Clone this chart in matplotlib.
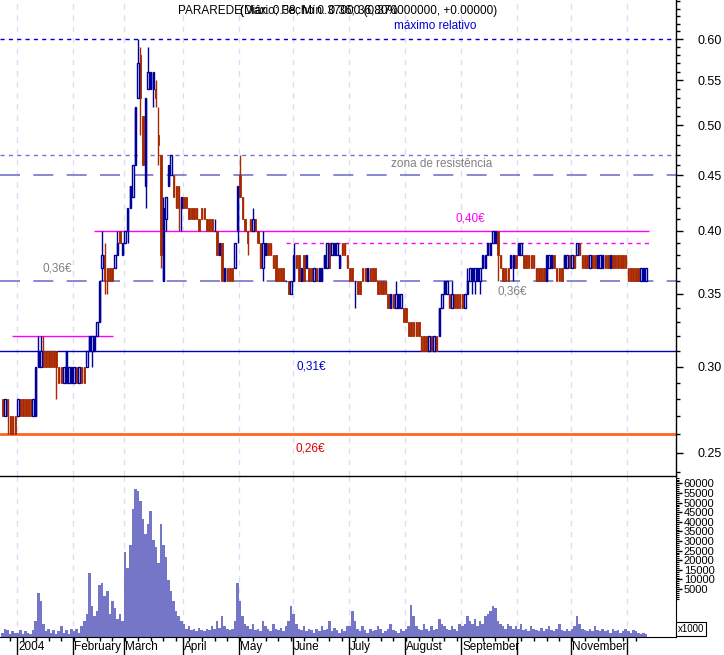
import numpy as np
import pandas as pd
import matplotlib
matplotlib.use("Agg")
import matplotlib.pyplot as plt
from matplotlib import ticker, transforms

plt.rcParams['font.family'] = ['Liberation Sans', 'DejaVu Sans']

# daily candles in euro cents, first session 24 Dec 2003 (one entry per weekday)
opens = [28, 27, 28, 27, 27, 27,
         27, 28, 28, 28, 28, 28, 27, 27, 30, 30, 31, 31, 31, 31, 31, 31, 30, 30, 29, 29, 29, 29,
         29, 30, 29, 30, 30, 30, 31, 31, 31, 32, 33, 37, 38, 37, 37, 37, 37, 38, 40, 38,
         39, 40, 42, 43, 46, 53, 58, 51, 44, 54, 54, 54, 54, 49, 47, 36, 41, 44, 45, 45, 44, 44, 42,
         43, 43, 42, 42, 42, 42, 41, 42, 42, 41, 41, 41, 40, 40, 38, 39, 36, 37, 37, 37, 37, 40,
         45, 43, 41, 40, 41, 40, 41, 40, 39, 37, 38, 39, 39, 38, 38, 37, 37, 37, 36, 36, 35,
         36, 38, 38, 36, 38, 37, 37, 37, 36, 37, 36, 36, 37, 37, 39, 38, 38, 38, 37, 39, 39, 38,
         37, 37, 36, 36, 36, 37, 37, 36, 37, 37, 37, 36, 36, 36, 36, 35, 34, 35, 34, 34, 34, 34,
         34, 33, 33, 33, 33, 33, 32, 32, 32, 31, 32, 31, 32, 32, 34, 35, 35, 35, 34, 35, 35, 35,
         35, 34, 35, 36, 36, 36, 36, 36, 37, 37, 38, 38, 39, 39, 40, 38, 37, 37, 37, 37, 37, 38,
         38, 38, 38, 38, 38, 38, 38, 37, 37, 37, 37, 36, 37, 37, 38, 37, 37, 37, 37, 37, 38,
         37, 38, 38, 39, 38, 38, 38, 37, 38, 38, 37, 37, 37, 38, 38, 37, 38, 38, 38, 38, 38, 38,
         37, 37, 37, 37, 37, 36, 36, 36]
closes = [27, 28, 27, 26, 26, 26,
          28, 27, 27, 27, 27, 27, 28, 30, 31, 31, 30, 30, 30, 30, 30, 30, 29, 29, 30, 31, 30, 30,
          30, 29, 30, 29, 29, 31, 32, 32, 32, 33, 36, 38, 36, 36, 36, 36, 38, 39, 39, 39,
          40, 42, 44, 46, 52, 57, 53, 46, 53, 56, 56, 56, 53, 48, 38, 42, 43, 46, 47, 43, 42, 42, 43,
          42, 42, 41, 41, 41, 41, 40, 41, 41, 40, 40, 40, 40, 38, 39, 36, 37, 36, 36, 36, 39, 44,
          43, 41, 40, 39, 40, 41, 40, 39, 37, 39, 39, 38, 38, 37, 36, 36, 36, 36, 36, 35, 36,
          38, 37, 36, 37, 36, 38, 36, 36, 37, 36, 37, 37, 38, 39, 37, 39, 39, 39, 38, 38, 38, 37,
          36, 36, 36, 35, 35, 36, 36, 37, 36, 36, 36, 35, 35, 35, 35, 34, 35, 34, 35, 35, 35, 33,
          33, 32, 32, 32, 32, 32, 31, 31, 31, 32, 31, 32, 31, 34, 35, 36, 36, 34, 35, 34, 34, 34,
          34, 35, 36, 37, 37, 37, 37, 37, 38, 38, 39, 39, 40, 40, 38, 37, 36, 36, 36, 38, 38, 37,
          39, 39, 37, 37, 37, 37, 37, 36, 36, 36, 36, 38, 38, 38, 37, 36, 36, 36, 38, 38, 37,
          38, 37, 39, 38, 37, 37, 37, 38, 37, 37, 38, 38, 38, 37, 37, 38, 37, 37, 37, 37, 37, 37,
          36, 36, 36, 36, 36, 37, 37, 37]
highs = [28, 28, 28, 27, 27, 27,
         28, 28, 28, 28, 28, 28, 28, 30, 32, 32, 32, 31, 31, 31, 31, 31, 30, 30, 30, 31, 30, 30,
         30, 30, 30, 30, 30, 31, 32, 32, 32, 33, 36, 40, 39, 37, 37, 37, 38, 40, 40, 39,
         40, 42, 44, 46, 52, 60, 59, 51, 53, 59, 56, 56, 55, 52, 47, 43, 43, 46, 47, 45, 44, 44, 43,
         43, 43, 42, 42, 42, 42, 41, 42, 42, 41, 41, 41, 41, 40, 39, 39, 37, 37, 37, 37, 39, 44,
         47, 43, 41, 40, 41, 42, 41, 40, 39, 40, 39, 39, 39, 38, 38, 37, 37, 37, 36, 36, 36,
         39, 38, 38, 37, 38, 38, 37, 37, 37, 37, 37, 37, 38, 39, 39, 39, 39, 39, 38, 39, 39, 38,
         37, 37, 36, 36, 36, 37, 37, 37, 37, 37, 37, 36, 36, 36, 36, 35, 35, 35, 36, 35, 35, 34,
         34, 33, 33, 33, 33, 33, 32, 32, 32, 32, 32, 32, 32, 34, 35, 36, 36, 35, 36, 35, 35, 35,
         35, 35, 37, 37, 37, 37, 37, 37, 38, 38, 39, 39, 40, 40, 40, 38, 37, 37, 37, 38, 38, 38,
         39, 39, 38, 38, 38, 38, 38, 37, 37, 37, 37, 38, 38, 38, 38, 37, 37, 37, 38, 38, 38,
         38, 38, 39, 39, 38, 38, 38, 38, 38, 38, 38, 38, 38, 38, 38, 38, 38, 38, 38, 38, 38, 38,
         37, 37, 37, 37, 37, 37, 37, 37]
lows = [27, 27, 26, 26, 26, 26,
        27, 27, 27, 27, 27, 27, 27, 27, 30, 30, 30, 30, 30, 30, 30, 28, 29, 29, 29, 29, 29, 29,
        29, 29, 29, 29, 29, 30, 31, 30, 31, 32, 33, 36, 35, 35, 36, 36, 37, 38, 39, 38,
        39, 39, 42, 43, 46, 53, 49, 46, 42, 54, 54, 52, 52, 46, 37, 36, 40, 44, 45, 43, 42, 40, 40,
        42, 42, 41, 41, 41, 41, 40, 41, 41, 40, 40, 40, 40, 38, 38, 36, 36, 36, 36, 36, 37, 39,
        43, 41, 40, 38, 40, 40, 40, 39, 37, 36, 38, 38, 38, 37, 36, 36, 36, 36, 36, 35, 35,
        36, 37, 36, 36, 36, 37, 36, 36, 36, 36, 36, 36, 37, 37, 37, 38, 38, 38, 37, 38, 38, 37,
        36, 36, 34, 35, 35, 36, 36, 36, 36, 36, 36, 35, 35, 35, 35, 34, 34, 34, 34, 34, 34, 33,
        33, 32, 32, 32, 32, 32, 31, 31, 31, 31, 31, 31, 31, 32, 34, 35, 35, 34, 34, 34, 34, 34,
        34, 34, 35, 36, 35, 35, 36, 35, 37, 37, 38, 38, 39, 39, 36, 37, 36, 36, 36, 37, 36, 37,
        38, 38, 37, 37, 37, 37, 37, 36, 36, 36, 36, 36, 37, 37, 37, 36, 36, 36, 37, 37, 37,
        37, 37, 38, 38, 37, 37, 37, 37, 37, 37, 37, 37, 37, 37, 37, 37, 37, 37, 37, 37, 37, 37,
        36, 36, 36, 36, 36, 36, 36, 36]
# volume, in the axis units (x1000)
volume = [1500, 3000, 2500, 1000, 2000, 1500,
          1500, 2500, 1000, 2000, 1500, 1000, 2500, 6000, 17000, 14000, 5000, 2000, 3000, 1500,
          2500, 1000, 2000, 4000, 1500, 2500, 1000, 3000,
          2000, 3000, 1500, 4000, 6000, 9000, 25000, 12000, 8000, 10000, 20000, 21000, 16000,
          18000, 9000, 14000, 11000, 7000, 9000, 6000,
          33000, 27000, 36000, 50000, 58000, 57000, 53000, 46000, 40000, 44000, 49000, 38000,
          35000, 29000, 44000, 36000, 31000, 22000, 18000, 14000, 10000, 8000, 6000,
          5000, 3000, 4000, 2500, 3000, 2000, 3500, 2500, 2000, 3000, 2500, 4000, 3000, 6000,
          3500, 8000, 4000, 3000, 2500, 3000, 6000, 21000,
          14000, 8000, 5000, 4000, 3000, 5000, 2500, 3000, 2000, 6000, 4000, 3000, 2000, 5000,
          3000, 2500, 3500, 2000, 4000, 6000, 12000,
          9000, 5000, 3000, 2500, 4000, 2000, 3000, 2500, 1500, 3000, 2000, 4000, 2500, 3000,
          6000, 2000, 3500, 2500, 1500, 3000, 2000, 4000,
          4000, 10000, 6000, 3000, 2000, 4000, 2500, 1500, 3000, 2000, 2500, 4000, 3000, 1500,
          2000, 3000, 5000, 2500, 2000, 1500, 3000, 2000,
          3000, 4000, 12500, 8000, 4000, 3000, 2500, 5000, 3000, 2000, 4000, 2500, 3000, 7000,
          5000, 4000, 3000, 2500, 4000, 3000, 2000, 5000,
          4000, 5000, 8000, 6000, 5000, 7000, 4000, 6000, 5000, 8000, 9000, 10000, 12000, 11000,
          6000, 5000, 4000, 3000, 5000, 4000, 3000, 4000,
          3000, 5000, 2500, 3000, 2000, 4000, 3000, 2500, 2000, 3500, 2000, 3000, 4000, 2500,
          2000, 3000, 5000, 2500, 2000, 3000, 2000,
          3000, 4000, 8000, 5000, 3000, 2500, 2000, 3000, 2000, 4000, 2500, 2000, 3000, 2000,
          2500, 1500, 3000, 2000, 2500, 1500, 2000, 3000,
          2000, 1500, 2500, 2000, 1500, 1000, 1500, 1000]

price_ticks = [0.25, 0.30, 0.35, 0.40, 0.45, 0.50, 0.55, 0.60]
vol_labels = [60000, 55000, 50000, 45000, 40000, 35000, 30000, 25000, 20000, 15000, 10000, 5000]
month_labels = ['2004', 'February', 'March', 'April', 'May', 'June', 'July',
                'August', 'September', '', 'November', '']

BLUE = '#00009a'
RED = '#a82800'
LAV = '#7474cc'
MAG = '#ff00ff'

n = len(closes)
x = np.arange(n)
o = np.array(opens) / 100
c = np.array(closes) / 100
h = np.maximum(np.array(highs) / 100, np.maximum(o, c))
l = np.minimum(np.array(lows) / 100, np.minimum(o, c))
dates = pd.bdate_range('2003-12-24', periods=n)

W, H = 724, 655
fig = plt.figure(figsize=(W / 100, H / 100), dpi=100)
# half-pixel offsets keep the 1px frame lines crisp
axv = fig.add_axes([0, (H - 636.5) / H, 675.5 / W, 161 / H])
ax = fig.add_axes([0, (H - 475.5) / H, 675.5 / W, 475.5 / H], sharex=axv)
ax.patch.set_visible(False)
axv.patch.set_visible(False)

# month grid
month_start = [i for i in range(1, n) if dates[i].month != dates[i - 1].month]
grid_x = [i - 0.4 for i in month_start]
for gx in grid_x:
    ax.axvline(gx, color='#dcdcf6', lw=1, ls=(0, (4, 4)), zorder=0)
    axv.axvline(gx, color='#dcdcf6', lw=1, ls=(0, (4, 4)), zorder=0)

# support / resistance lines
ax.axhline(0.60, color='#0000c8', lw=1, ls=(0, (3, 3)))
ax.axhline(0.47, color=LAV, lw=1, ls=(0, (3, 3)))
ax.axhline(0.45, color=LAV, lw=1.2, ls=(0, (12, 8)))
ax.axhline(0.36, color=LAV, lw=1.2, ls=(0, (12, 8)))
ax.axhline(0.31, color='#0000b4', lw=1)
ax.axhline(0.26, color='#ff6420', lw=2)
ax.hlines(0.40, 36, 253, color=MAG, lw=1)
ax.hlines(0.39, 111, 253, color=MAG, lw=1, ls=(0, (3, 3)))
ax.hlines(0.32, 3.7, 43.3, color=MAG, lw=1)

# candles
up = c >= o
lo_b = np.minimum(o, c)
hi_b = np.maximum(o, c)
ax.vlines(x[up], l[up], h[up], color=BLUE, lw=1, zorder=3)
ax.vlines(x[~up], l[~up], h[~up], color=RED, lw=1, zorder=3)
ax.bar(x[~up], hi_b[~up] - lo_b[~up], bottom=lo_b[~up], width=0.55,
       color=RED, edgecolor=RED, lw=0.6, zorder=4)
ax.bar(x[up], hi_b[up] - lo_b[up], bottom=lo_b[up], width=0.55,
       facecolor='white', edgecolor=BLUE, lw=1, zorder=4)

ax.set_yscale('log')
ax.set_ylim(0.2383, 0.652)
ax.set_xlim(-1, 263.5)
ax.yaxis.set_major_locator(ticker.FixedLocator(price_ticks))
ax.yaxis.set_major_formatter(ticker.FormatStrFormatter('%.2f'))
ax.yaxis.set_minor_locator(ticker.FixedLocator(np.arange(24, 66) / 100))
ax.yaxis.set_minor_formatter(ticker.NullFormatter())
ax.yaxis.tick_right()
ax.tick_params(axis='y', which='major', length=5, width=1, pad=11, labelsize=9)
ax.tick_params(axis='y', which='minor', length=3, width=1)
ax.tick_params(axis='x', which='both', bottom=False, labelbottom=False)
for s in ['top', 'left']:
    ax.spines[s].set_visible(False)
for s in ['right', 'bottom']:
    ax.spines[s].set_linewidth(1)
    ax.spines[s].set_color('black')

# annotations
ax.text(169.5, 0.617, 'máximo relativo', color='#0000d0', fontsize=8.5, ha='center', va='center')
ax.text(171.8, 0.461, 'zona de resistência', color='#808080', fontsize=8.5, ha='center', va='center')
ax.text(183.2, 0.411, '0,40€', color=MAG, fontsize=8.5, ha='center', va='center')
ax.text(21.4, 0.3697, '0,36€', color='#808080', fontsize=8.5, ha='center', va='center')
ax.text(199.6, 0.3515, '0,36€', color='#808080', fontsize=8.5, ha='center', va='center')
ax.text(120.9, 0.300, '0,31€', color='#0000c8', fontsize=8.5, ha='center', va='center')
ax.text(120.5, 0.2523, '0,26€', color='#e00000', fontsize=8.5, ha='center', va='center')

# header: the source draws several captions on top of each other
fig.text(178 / W, 1 - 11 / H, 'PARAREDE', fontsize=8.5, va='center')
for s in ['(Diário; Fecho 0.37000 (0.370000000, +0.00000)', '(Máx. 0.38; Mín. 0.36; 36,80%']:
    fig.text(240 / W, 1 - 11 / H, s, fontsize=8.5, va='center')

# volume
axv.bar(x, volume, width=1.0, color='#7676c8', lw=0)
axv.set_ylim(0, 63100)
vol_pos = [60000 - (60000 - v) * 0.753 for v in vol_labels]
axv.yaxis.set_major_locator(ticker.FixedLocator(vol_pos))
axv.yaxis.set_major_formatter(ticker.FixedFormatter([str(v) for v in vol_labels]))
axv.yaxis.set_minor_locator(ticker.FixedLocator(np.arange(0, 63100, 1000) * 0.753 + 60000 * 0.247))
axv.yaxis.tick_right()
axv.tick_params(axis='y', which='major', length=4, width=1, pad=2, labelsize=8)
axv.tick_params(axis='y', which='minor', length=2, width=0.8)

mondays = [i for i in range(n) if dates[i].weekday() == 0]
axv.set_xticks(grid_x)
axv.set_xticks(mondays, minor=True)
axv.tick_params(axis='x', which='major', length=13, width=1, labelbottom=False)
axv.tick_params(axis='x', which='minor', length=3, width=1)
trans = transforms.blended_transform_factory(axv.transData, axv.transAxes)
for gx, lab in zip(grid_x, month_labels):
    axv.text(gx + 0.5, -0.065, lab, transform=trans, fontsize=8.5, ha='left', va='center')
for s in ['top', 'left']:
    axv.spines[s].set_visible(False)

fig.text(678 / W, 1 - 629 / H, 'x1000', fontsize=7, va='center',
         bbox=dict(facecolor='white', edgecolor='black', lw=0.8, pad=1.2))

fig.savefig('out.png', dpi=100)
